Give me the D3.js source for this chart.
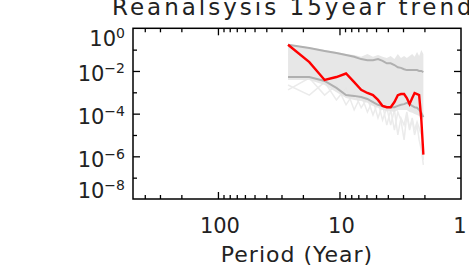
<!DOCTYPE html>
<html>
<head>
<meta charset="utf-8">
<script src="https://cdn.jsdelivr.net/npm/d3@7"></script>
<style>
  body { margin: 0; background: #fff; }
  text { font-family: "DejaVu Sans", sans-serif; fill: #222; }
</style>
</head>
<body>
<div id="chart"></div>
<script>
// periods (years) of the spectral estimates
var periods = [26.5, 17.7, 13.25, 10.6, 8.83, 7.57, 6.63, 5.89, 5.3, 4.82, 4.42, 4.08, 3.79,
               3.53, 3.31, 3.12, 2.94, 2.79, 2.65, 2.52, 2.41, 2.30, 2.21, 2.12, 2.04];

// reanalysis spectrum (red)
var reanalysis = [1.7e-1, 2.6e-2, 3.8e-3, 5.2e-3, 7.6e-3, 3.0e-3, 1.3e-3, 9.3e-4, 7.4e-4, 4.4e-4,
                  2.3e-4, 2.0e-4, 2.0e-4, 3.5e-4, 7.4e-4, 8.3e-4, 8.3e-4, 5.4e-4, 2.8e-4, 5.4e-4,
                  9.3e-4, 8.3e-4, 7.4e-4, 5.1e-5, 1.2e-6];

// darker gray reference lines
var upperLine = [1.7e-1, 1.2e-1, 8.7e-2, 6.9e-2, 5.6e-2, 4.6e-2, 3.6e-2, 3.2e-2, 3.2e-2, 3.6e-2,
                 3.0e-2, 2.3e-2, 2.3e-2, 1.9e-2, 1.5e-2, 1.4e-2, 1.2e-2, 1.1e-2, 1.1e-2, 1.1e-2,
                 1.1e-2, 1.1e-2, 1.0e-2, 1.0e-2, 8.9e-3];
var lowerLine = [5.2e-3, 5.2e-3, 3.4e-3, 1.6e-3, 7.4e-4, 6.8e-4, 6.0e-4, 4.9e-4, 3.5e-4, 2.6e-4,
                 2.3e-4, 2.0e-4, 2.0e-4, 2.0e-4, 2.3e-4, 2.6e-4, 2.8e-4, 3.2e-4, 2.8e-4, 2.3e-4,
                 2.0e-4, 1.9e-4, 1.5e-4, 1.1e-4, 6.9e-5];

// shaded envelope
var bandTop = [1.8e-1, 1.3e-1, 9.6e-2, 7.7e-2, 6.3e-2, 5.6e-2, 4.6e-2, 6.3e-2, 4.6e-2, 5.6e-2,
               4.6e-2, 4.1e-2, 5.0e-2, 3.6e-2, 6.3e-2, 4.1e-2, 5.0e-2, 4.1e-2, 5.0e-2, 6.3e-2,
               4.6e-2, 7.7e-2, 5.0e-2, 9.6e-2, 6.3e-2];
var bandBottom = [3.8e-3, 3.8e-3, 2.2e-3, 1.0e-3, 5.4e-4, 4.4e-4, 3.9e-4, 3.2e-4, 2.3e-4, 1.9e-4,
                  1.5e-4, 1.3e-4, 1.3e-4, 1.2e-4, 1.5e-4, 1.5e-4, 1.5e-4, 1.5e-4, 1.2e-4, 1.1e-4,
                  9.6e-5, 8.7e-5, 7.8e-5, 6.3e-5, 5.0e-5];

// faint individual members
var memberA = [2.2e-3, 7.4e-4, 3.0e-3, 4.4e-4, 1.6e-3, 1.5e-4, 7.4e-4, 1.2e-4, 4.4e-4, 6.3e-5,
               2.6e-4, 2.9e-5, 1.5e-4, 1.7e-5, 1.2e-4, 5.0e-5, 5.9e-6, 8.7e-5, 1.7e-5, 5.0e-5,
               1.0e-5, 2.9e-5, 5.9e-6, 2.0e-6, 4.0e-7];
var memberB = [1.3e-3, 4.7e-3, 7.4e-4, 2.2e-3, 2.6e-4, 1.0e-3, 1.9e-4, 5.4e-4, 8.7e-5, 3.5e-4,
               5.0e-5, 1.9e-4, 2.9e-5, 1.5e-4, 1.0e-5, 6.3e-5, 2.9e-5, 1.2e-4, 2.1e-5, 6.3e-5,
               1.7e-5, 4.1e-5, 2.1e-5, 1.0e-5, 6.8e-7];

var xMajor = [100, 10];
var xMinor = [400, 300, 200, 90, 80, 70, 60, 50, 40, 30, 20, 9, 8, 7, 6, 5, 4, 3, 2];
var xLabels = ["100", "10", "1"];
var yMajor = [1e-2, 1e-4, 1e-6];
var yMinor = [1e-1, 1e-3, 1e-5, 1e-7];
var yLabelExps = ["0", "\u22122", "\u22124", "\u22126", "\u22128"];

(function() {
var width = 469, height = 271;
var pLeft = 133, pRight = 461, pTop = 28.3, pBottom = 199;

var svg = d3.select("#chart").append("svg")
    .attr("width", width)
    .attr("height", height);

var x = d3.scaleLog().domain([500, 1]).range([pLeft, pRight]);
var y = d3.scaleLog().domain([1, 1e-8]).range([pTop, pBottom]);

svg.append("defs").append("clipPath").attr("id", "plot")
  .append("rect")
    .attr("x", pLeft).attr("y", pTop)
    .attr("width", pRight - pLeft).attr("height", pBottom - pTop);

var plot = svg.append("g").attr("clip-path", "url(#plot)");

var line = function(vals) {
    return d3.line()
        .x(function(d, i) { return x(periods[i]); })
        .y(function(d) { return y(d); })(vals);
};

[memberA, memberB].forEach(function(m) {
    plot.append("path")
        .attr("d", line(m))
        .attr("fill", "none")
        .attr("stroke", "#ebebeb")
        .attr("stroke-width", 1.5);
});

var area = d3.area()
    .x(function(d, i) { return x(periods[i]); })
    .y0(function(d, i) { return y(bandBottom[i]); })
    .y1(function(d) { return y(d); });

plot.append("path")
    .attr("d", area(bandTop))
    .attr("fill", "#e4e4e4")
    .attr("fill-opacity", 0.9);

[upperLine, lowerLine].forEach(function(m) {
    plot.append("path")
        .attr("d", line(m))
        .attr("fill", "none")
        .attr("stroke", "#b0b0b0")
        .attr("stroke-width", 2);
});

plot.append("path")
    .attr("d", line(reanalysis))
    .attr("fill", "none")
    .attr("stroke", "#ff0000")
    .attr("stroke-width", 2.4);

// ticks on all four sides, pointing inwards
function ticks(axis, vals, size, transform) {
    svg.append("g")
        .attr("transform", transform)
        .call(axis.tickValues(vals).tickSize(size).tickFormat(""))
        .call(function(g) {
            g.select(".domain").remove();
            g.selectAll("line").attr("stroke", "#000").attr("stroke-width", 1.3);
        });
}
ticks(d3.axisBottom(x), xMajor, -7, "translate(0," + pBottom + ")");
ticks(d3.axisBottom(x), xMinor, -4, "translate(0," + pBottom + ")");
ticks(d3.axisTop(x), xMajor, -7, "translate(0," + pTop + ")");
ticks(d3.axisTop(x), xMinor, -4, "translate(0," + pTop + ")");
ticks(d3.axisLeft(y), yMajor, -7, "translate(" + pLeft + ",0)");
ticks(d3.axisLeft(y), yMinor, -4, "translate(" + pLeft + ",0)");
ticks(d3.axisRight(y), yMajor, -7, "translate(" + pRight + ",0)");
ticks(d3.axisRight(y), yMinor, -4, "translate(" + pRight + ",0)");

svg.append("rect")
    .attr("x", pLeft).attr("y", pTop)
    .attr("width", pRight - pLeft).attr("height", pBottom - pTop)
    .attr("fill", "none")
    .attr("stroke", "#000")
    .attr("stroke-width", 1.5);

// x tick labels
[100, 10, 1].forEach(function(v, i) {
    svg.append("text")
        .attr("x", x(v) + (i == 2 ? -1 : 2))
        .attr("y", 233)
        .attr("text-anchor", "middle")
        .style("font-size", "21px")
        .text(xLabels[i]);
});

// y tick labels, the ones at the frame edges are pulled inwards
yLabelExps.forEach(function(e, i) {
    var v = Math.pow(10, -2 * i);
    var shift = i == 0 ? 17.5 : (i == 4 ? -1 : 10.5);
    var t = svg.append("text")
        .attr("x", 125)
        .attr("y", y(v) + shift)
        .attr("text-anchor", "end")
        .style("font-size", "21px");
    t.append("tspan").text("10");
    t.append("tspan")
        .attr("dy", -8)
        .style("font-size", "14px")
        .text(e);
});

svg.append("text")
    .attr("x", (pLeft + pRight) / 2)
    .attr("y", 262)
    .attr("text-anchor", "middle")
    .style("font-size", "22px")
    .style("letter-spacing", "1px")
    .text("Period (Year)");

svg.append("text")
    .attr("x", 112)
    .attr("y", 15)
    .style("font-size", "23px")
    .style("letter-spacing", "3px")
    .text("Reanalsysis 15year trend");
})();
</script>
</body>
</html>
